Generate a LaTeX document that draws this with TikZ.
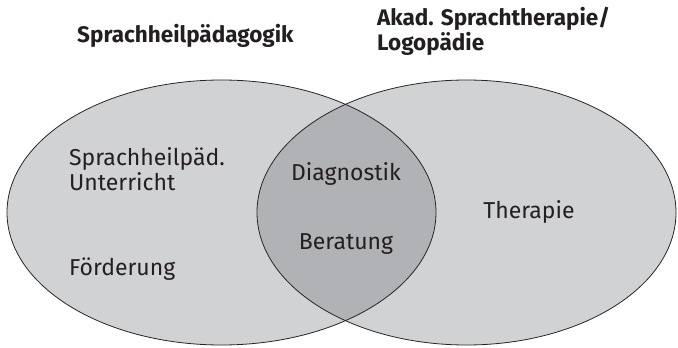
\documentclass[tikz,border=0pt]{standalone}
\usepackage{fontspec}
\setmainfont{Fira Sans}
\definecolor{lightgrey}{HTML}{D1D2D4}
\definecolor{darkgrey}{HTML}{B1B2B5}
\definecolor{textgrey}{HTML}{231F20}

\begin{document}
\begin{tikzpicture}[x=1pt, y=-1pt,
  txt/.style={text=textgrey, inner sep=0pt, font=\fontsize{23}{25}\selectfont},
  head/.style={txt, font=\fontsize{22.5}{23}\selectfont\bfseries, align=left}]
\useasboundingbox (0,0) rectangle (678,348);

% the two fields
\fill [lightgrey] (221.5,212.5) ellipse [x radius=214.5, y radius=132.5];
\fill [lightgrey] (466.5,212.5) ellipse [x radius=209.5, y radius=132.5];
\begin{scope}
\clip (221.5,212.5) ellipse [x radius=214.5, y radius=132.5];
\fill [darkgrey] (466.5,212.5) ellipse [x radius=209.5, y radius=132.5];
\end{scope}
\draw [line width=0.8pt, black!85] (221.5,212.5) ellipse [x radius=214.5, y radius=132.5];
\draw [line width=0.8pt, black!85] (466.5,212.5) ellipse [x radius=209.5, y radius=132.5];

% base of a two-line node is the baseline of its last line
\node [head, anchor=base west] (spp) at (77,42) {Sprachheilpädagogik};
\node [head, anchor=base west] (slt) at (377,50) {Akad. Sprachtherapie/\\Logopädie};

\node [txt, anchor=base west, align=left] (unt) at (69,190) {Sprachheilpäd.\\Unterricht};
\node [txt, anchor=base west] (foe) at (69,275) {Förderung};
\node [txt, anchor=base] (dia) at (346,180) {Diagnostik};
\node [txt, anchor=base] (ber) at (346,249) {Beratung};
\node [txt, anchor=base] (the) at (529,218) {Therapie};
\end{tikzpicture}
\end{document}
